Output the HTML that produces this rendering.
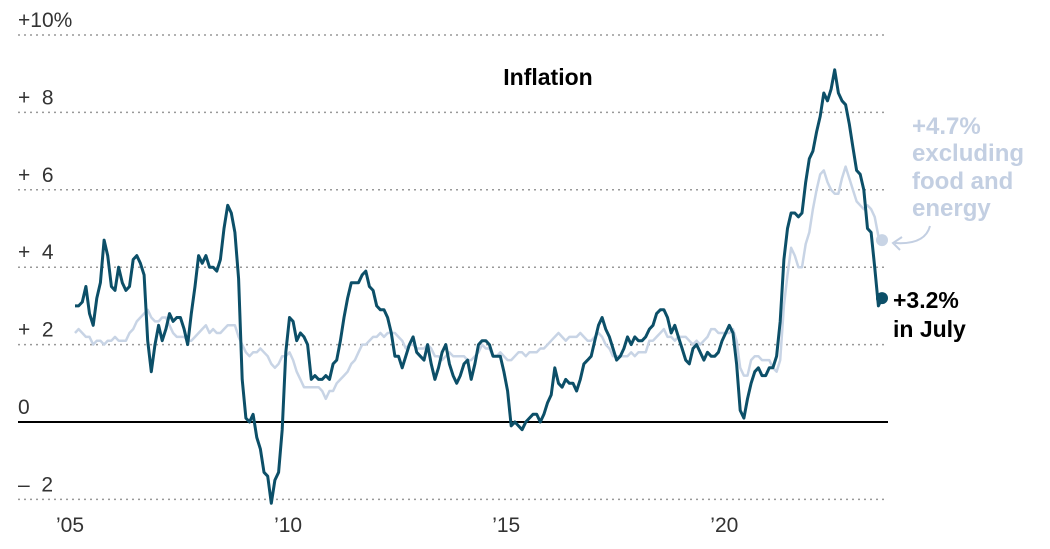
<!DOCTYPE html>
<html><head><meta charset="utf-8"><style>
body{margin:0;background:#fff;}
svg{display:block;font-family:"Liberation Sans",sans-serif;}
</style></head><body>
<svg id="chart" width="1050" height="549">
<g id="grid"></g>
<g id="ylabels"></g>
<g id="xlabels"></g>
<g id="series"></g>
<text x="548" y="85" text-anchor="middle" font-size="23" font-weight="bold" fill="#000">Inflation</text>
<g fill="#c3cfe2" font-size="24" font-weight="bold">
<text x="912" y="134">+4.7%</text>
<text x="912" y="161">excluding</text>
<text x="912" y="189">food and</text>
<text x="912" y="216">energy</text>
</g>
<path d="M930 226 Q925 245 895 243" fill="none" stroke="#c3cfe2" stroke-width="2"/>
<path d="M902 237 L893 243 L900 250" fill="none" stroke="#c3cfe2" stroke-width="2"/>
<g fill="#000" font-size="23" font-weight="bold">
<text x="893" y="308">+3.2%</text>
<text x="893" y="337">in July</text>
</g>
</svg>
<script>
const headline = [
3.0,3.0,3.1,3.5,2.8,2.5,3.2,3.6,4.7,4.3,3.5,3.4,
4.0,3.6,3.4,3.5,4.2,4.3,4.1,3.8,2.1,1.3,2.0,2.5,
2.1,2.4,2.8,2.6,2.7,2.7,2.4,2.0,2.8,3.5,4.3,4.1,
4.3,4.0,4.0,3.9,4.2,5.0,5.6,5.4,4.9,3.7,1.1,0.1,
0.0,0.2,-0.4,-0.7,-1.3,-1.4,-2.1,-1.5,-1.3,-0.2,1.8,2.7,
2.6,2.1,2.3,2.2,2.0,1.1,1.2,1.1,1.1,1.2,1.1,1.5,
1.6,2.1,2.7,3.2,3.6,3.6,3.6,3.8,3.9,3.5,3.4,3.0,
2.9,2.9,2.7,2.3,1.7,1.7,1.4,1.7,2.0,2.2,1.8,1.7,
1.6,2.0,1.5,1.1,1.4,1.8,2.0,1.5,1.2,1.0,1.2,1.5,
1.6,1.1,1.5,2.0,2.1,2.1,2.0,1.7,1.7,1.7,1.3,0.8,
-0.1,0.0,-0.1,-0.2,0.0,0.1,0.2,0.2,0.0,0.2,0.5,0.7,
1.4,1.0,0.9,1.1,1.0,1.0,0.8,1.1,1.5,1.6,1.7,2.1,
2.5,2.7,2.4,2.2,1.9,1.6,1.7,1.9,2.2,2.0,2.2,2.1,
2.1,2.2,2.4,2.5,2.8,2.9,2.9,2.7,2.3,2.5,2.2,1.9,
1.6,1.5,1.9,2.0,1.8,1.6,1.8,1.7,1.7,1.8,2.1,2.3,
2.5,2.3,1.5,0.3,0.1,0.6,1.0,1.3,1.4,1.2,1.2,1.4,
1.4,1.7,2.6,4.2,5.0,5.4,5.4,5.3,5.4,6.2,6.8,7.0,
7.5,7.9,8.5,8.3,8.6,9.1,8.5,8.3,8.2,7.7,7.1,6.5,
6.4,6.0,5.0,4.9,4.0,3.0,3.2];
const core = [
2.3,2.4,2.3,2.2,2.2,2.0,2.1,2.1,2.0,2.1,2.1,2.2,
2.1,2.1,2.1,2.3,2.4,2.6,2.7,2.8,2.9,2.7,2.6,2.6,
2.7,2.7,2.5,2.3,2.2,2.2,2.2,2.1,2.1,2.2,2.3,2.4,
2.5,2.3,2.4,2.3,2.3,2.4,2.5,2.5,2.5,2.2,2.0,1.8,
1.7,1.8,1.8,1.9,1.8,1.7,1.5,1.4,1.5,1.7,1.7,1.8,
1.6,1.3,1.1,0.9,0.9,0.9,0.9,0.9,0.8,0.6,0.8,0.8,
1.0,1.1,1.2,1.3,1.5,1.6,1.8,2.0,2.0,2.1,2.2,2.2,
2.3,2.2,2.3,2.3,2.3,2.2,2.1,1.9,2.0,2.0,1.9,1.9,
1.9,2.0,1.9,1.7,1.7,1.6,1.7,1.8,1.7,1.7,1.7,1.7,
1.6,1.6,1.7,1.8,2.0,1.9,1.9,1.7,1.7,1.8,1.7,1.6,
1.6,1.7,1.8,1.8,1.7,1.8,1.8,1.8,1.9,1.9,2.0,2.1,
2.2,2.3,2.2,2.1,2.2,2.2,2.2,2.3,2.2,2.1,2.1,2.2,
2.3,2.2,2.0,1.9,1.7,1.7,1.7,1.7,1.7,1.8,1.7,1.8,
1.8,1.8,2.1,2.1,2.2,2.3,2.4,2.2,2.2,2.1,2.2,2.2,
2.2,2.1,2.0,2.1,2.0,2.1,2.2,2.4,2.4,2.3,2.3,2.3,
2.3,2.4,2.1,1.4,1.2,1.2,1.6,1.7,1.7,1.6,1.6,1.6,
1.4,1.3,1.6,3.0,3.8,4.5,4.3,4.0,4.0,4.6,4.9,5.5,
6.0,6.4,6.5,6.2,6.0,5.9,5.9,6.3,6.6,6.3,6.0,5.7,
5.6,5.5,5.6,5.5,5.3,4.8,4.7];
const yTicks = [10,8,6,4,2,0,-2];
const yTickLabels = ["+10%","+  8","+  6","+  4","+  2","0","–  2"];
const xTicks = [2005,2010,2015,2020];
const xTickLabels = ["’05","’10","’15","’20"];
const startYear = 2005;

const NS="http://www.w3.org/2000/svg";
const x = m => 75 + m*(807/222);
const xYear = yr => x((yr-startYear)*12);
const y = v => 422 - v*38.7;
function mk(tag, attrs, parent){const e=document.createElementNS(NS,tag);for(const k in attrs)e.setAttribute(k,attrs[k]);parent.appendChild(e);return e;}
const grid=document.getElementById('grid'), yl=document.getElementById('ylabels'), xl=document.getElementById('xlabels'), ser=document.getElementById('series');
yTicks.forEach((t,i)=>{
  const l=mk('line',{x1:18,x2:888,y1:y(t),y2:y(t),stroke:t===0?'#000':'#999','stroke-width':t===0?2:1.5,'stroke-dasharray':t===0?'none':'2 4'},grid);
  
  
  const tx=mk('text',{x:18,y:y(t)-8,'font-size':21,fill:'#333','xml:space':'preserve'},yl);
  tx.setAttribute('style','white-space:pre');
  tx.textContent=yTickLabels[i];
  
  
});
xTicks.forEach((t,i)=>{
  const tx=mk('text',{x:xYear(t)-5,y:532,'font-size':21,fill:'#333','text-anchor':'middle'},xl);
  tx.textContent=xTickLabels[i];
  
  
});
function line(arr,color,w,name){
  const d=arr.map((v,i)=>(i?'L':'M')+x(i).toFixed(1)+' '+y(v).toFixed(1)).join(' ');
  const p=mk('path',{d:d,fill:'none',stroke:color,'stroke-width':w,'stroke-linejoin':'round'},ser);
  
  
  const n=arr.length-1;
  const c=mk('circle',{cx:x(n),cy:y(arr[n]),r:6,fill:color},ser);
  
  
}
line(core,'#c8d4e5',2.5,'core-line');
line(headline,'#0c4f68',3,'headline-line');
</script>
</body></html>
